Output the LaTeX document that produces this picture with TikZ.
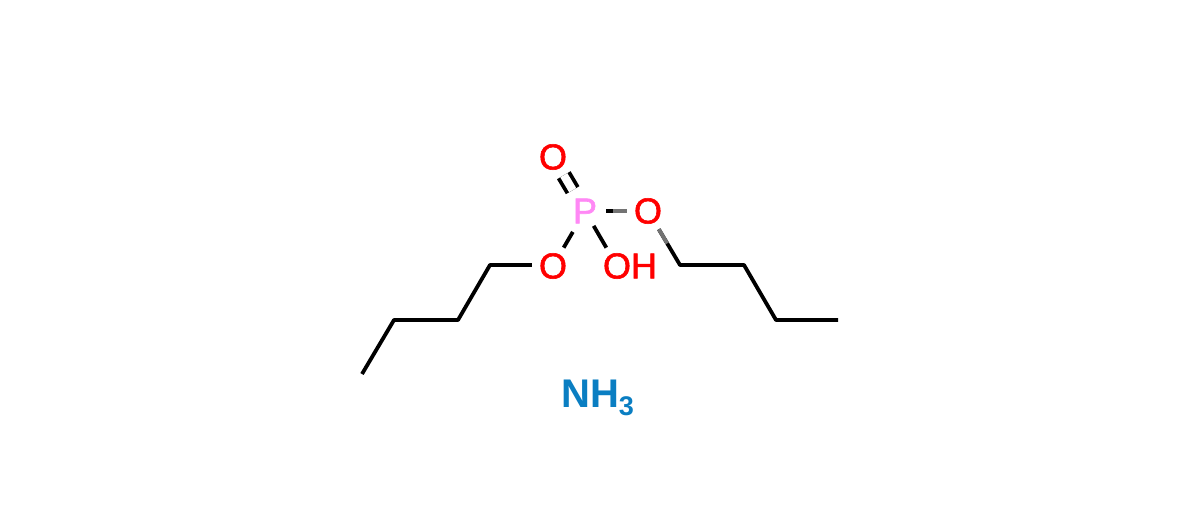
\documentclass[tikz,border=0pt]{standalone}
\usepackage{fontspec}
\setmainfont{Liberation Sans}
\newfontfamily\atomfont[FakeBold=1.6]{Liberation Sans}
\usetikzlibrary{calc}
\definecolor{oxred}{HTML}{FF0000}
\definecolor{phos}{HTML}{FF88F5}
\definecolor{nblue}{HTML}{0A7EC2}
\tikzset{
  atom/.style={circle,inner sep=0pt,minimum size=42pt,font=\atomfont\fontsize{36}{36}\selectfont},
  oxy/.style={atom,text=oxred},
  bond/.style={line width=3.8pt,black},
  fade/.style={line width=3.8pt,black!55},
}
\begin{document}
\begin{tikzpicture}[x=1pt,y=-1pt]
\useasboundingbox (0,0) rectangle (1200,511);
\node[atom,text=phos] (P) at (585,211) {P};
\node[oxy] (Otop) at (553,157) {O};
\node[oxy] (Oright) at (648,211) {O};
\node[oxy] (Oleft) at (553,266) {O};
\node[oxy] (OH) at (617,266) {O\rlap{H}};
\node[font=\bfseries\fontsize{40}{40}\selectfont,text=nblue,inner sep=0pt,anchor=base west] (amm) at (561,407) {NH\raisebox{-8pt}{\fontsize{27}{27}\selectfont 3}};
\coordinate (a1) at (490,265);
\coordinate (a2) at (458,320);
\coordinate (a3) at (394,320);
\coordinate (a4) at (362,374);
\coordinate (b1) at (680,265);
\coordinate (b2) at (744,265);
\coordinate (b3) at (776,320);
\coordinate (b4) at (838,320);
\draw[line width=3.8pt,double=white,double distance=8.2pt,black,shorten <=3pt] (P) -- (Otop);
\draw[bond] (P) -- (Oright);
\draw[fade] ($(P)!0.45!(Oright)$) -- (Oright);
\draw[bond,shorten <=3pt] (P) -- (Oleft);
\draw[bond,shorten <=-4pt] (P) -- (OH);
\draw[bond,line join=round] (Oleft.west |- a1) -- (a1) -- (a2) -- (a3) -- (a4);
\draw[bond,line join=round] (Oright) -- (b1) -- (b2) -- (b3) -- (b4);
\draw[fade] (Oright) -- ($(Oright)!0.6!(b1)$);
\end{tikzpicture}
\end{document}
